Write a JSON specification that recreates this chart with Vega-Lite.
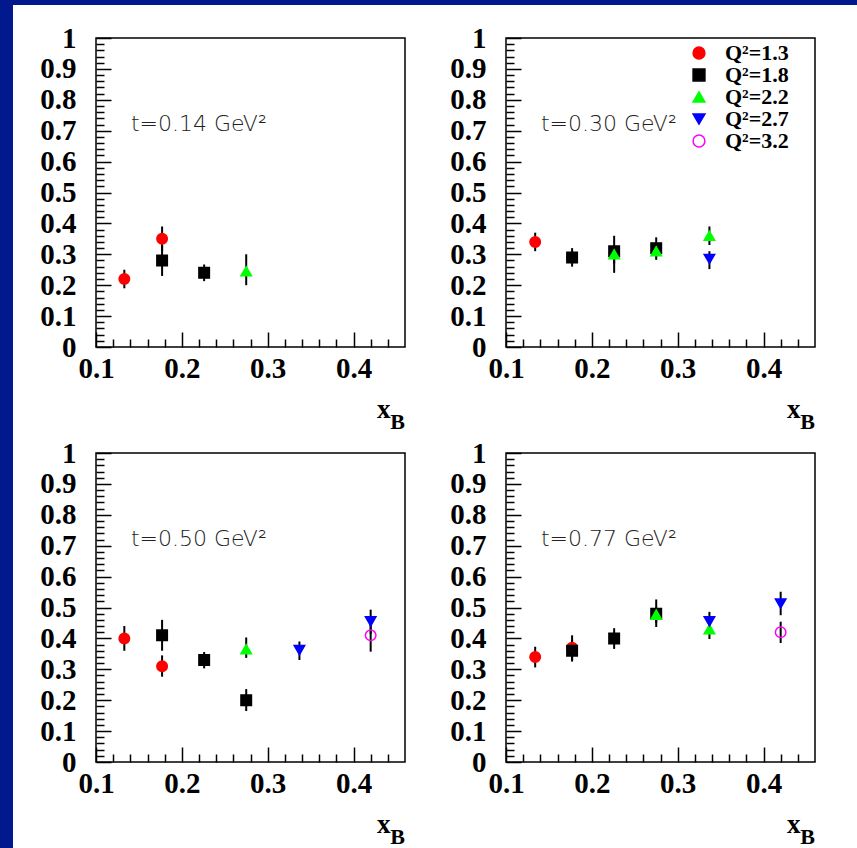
{
  "$schema": "https://vega.github.io/schema/vega-lite/v6.json",
  "padding": 0,
  "autosize": {"type": "pad"},
  "background": "white",
  "config": {
    "legend": {"labelFont": "Liberation Serif", "labelFontWeight": "bold", "labelFontSize": 22, "labelColor": "black", "symbolSize": 140, "symbolStrokeWidth": 1.5, "rowPadding": 0, "labelOffset": 15, "padding": 0},
    "axis": {"ticks": true, "tickColor": "#000000", "tickWidth": 1.5, "tickOpacity": 1, "grid": false, "domain": false, "labelFont": "Liberation Serif", "labelFontWeight": "bold", "labelFontSize": 29, "labelColor": "black", "labelOverlap": false, "labelFlush": false, "titleFont": "Liberation Serif", "titleFontWeight": "bold", "titleColor": "black", "titleAlign": "right", "titleBaseline": "alphabetic"}
  },
  "datasets": {
    "pts": [
      {"t": "0.14", "q": "Q²=1.3", "x": 0.133, "y": 0.22, "lo": 0.19, "hi": 0.25},
      {"t": "0.14", "q": "Q²=1.3", "x": 0.177, "y": 0.35, "lo": 0.31, "hi": 0.39},
      {"t": "0.14", "q": "Q²=1.8", "x": 0.177, "y": 0.28, "lo": 0.23, "hi": 0.33},
      {"t": "0.14", "q": "Q²=1.8", "x": 0.226, "y": 0.24, "lo": 0.213, "hi": 0.267},
      {"t": "0.14", "q": "Q²=2.2", "x": 0.275, "y": 0.245, "lo": 0.2, "hi": 0.3},
      {"t": "0.30", "q": "Q²=1.3", "x": 0.134, "y": 0.34, "lo": 0.31, "hi": 0.37},
      {"t": "0.30", "q": "Q²=1.3", "x": 0.177, "y": 0.29, "lo": 0.27, "hi": 0.31},
      {"t": "0.30", "q": "Q²=1.8", "x": 0.177, "y": 0.29, "lo": 0.26, "hi": 0.32},
      {"t": "0.30", "q": "Q²=1.8", "x": 0.226, "y": 0.31, "lo": 0.27, "hi": 0.36},
      {"t": "0.30", "q": "Q²=1.8", "x": 0.275, "y": 0.32, "lo": 0.29, "hi": 0.355},
      {"t": "0.30", "q": "Q²=2.2", "x": 0.226, "y": 0.3, "lo": 0.24, "hi": 0.33},
      {"t": "0.30", "q": "Q²=2.2", "x": 0.275, "y": 0.31, "lo": 0.282, "hi": 0.33},
      {"t": "0.30", "q": "Q²=2.2", "x": 0.337, "y": 0.36, "lo": 0.33, "hi": 0.39},
      {"t": "0.30", "q": "Q²=2.7", "x": 0.337, "y": 0.285, "lo": 0.252, "hi": 0.31},
      {"t": "0.50", "q": "Q²=1.3", "x": 0.133, "y": 0.4, "lo": 0.36, "hi": 0.44},
      {"t": "0.50", "q": "Q²=1.3", "x": 0.177, "y": 0.31, "lo": 0.276, "hi": 0.345},
      {"t": "0.50", "q": "Q²=1.8", "x": 0.177, "y": 0.41, "lo": 0.36, "hi": 0.46},
      {"t": "0.50", "q": "Q²=1.8", "x": 0.226, "y": 0.33, "lo": 0.303, "hi": 0.356},
      {"t": "0.50", "q": "Q²=1.8", "x": 0.275, "y": 0.2, "lo": 0.165, "hi": 0.236},
      {"t": "0.50", "q": "Q²=2.2", "x": 0.275, "y": 0.365, "lo": 0.337, "hi": 0.403},
      {"t": "0.50", "q": "Q²=2.7", "x": 0.337, "y": 0.362, "lo": 0.33, "hi": 0.39},
      {"t": "0.50", "q": "Q²=2.7", "x": 0.42, "y": 0.455, "lo": 0.415, "hi": 0.493},
      {"t": "0.50", "q": "Q²=3.2", "x": 0.42, "y": 0.41, "lo": 0.357, "hi": 0.45},
      {"t": "0.77", "q": "Q²=1.3", "x": 0.134, "y": 0.34, "lo": 0.306, "hi": 0.373},
      {"t": "0.77", "q": "Q²=1.3", "x": 0.177, "y": 0.37, "lo": 0.33, "hi": 0.41},
      {"t": "0.77", "q": "Q²=1.8", "x": 0.177, "y": 0.36, "lo": 0.325, "hi": 0.395},
      {"t": "0.77", "q": "Q²=1.8", "x": 0.226, "y": 0.4, "lo": 0.366, "hi": 0.433},
      {"t": "0.77", "q": "Q²=1.8", "x": 0.275, "y": 0.48, "lo": 0.437, "hi": 0.526},
      {"t": "0.77", "q": "Q²=2.2", "x": 0.275, "y": 0.477, "lo": 0.45, "hi": 0.5},
      {"t": "0.77", "q": "Q²=2.2", "x": 0.337, "y": 0.43, "lo": 0.398, "hi": 0.455},
      {"t": "0.77", "q": "Q²=2.7", "x": 0.337, "y": 0.455, "lo": 0.42, "hi": 0.486},
      {"t": "0.77", "q": "Q²=2.7", "x": 0.42, "y": 0.513, "lo": 0.475, "hi": 0.551},
      {"t": "0.77", "q": "Q²=3.2", "x": 0.42, "y": 0.42, "lo": 0.385, "hi": 0.454}
    ]
  },
  "spacing": 0,
  "hconcat": [
    {"width": 13, "height": 848, "data": {"values": []}, "mark": "point", "view": {"fill": "#02198e", "stroke": null}},
    {
      "spacing": 18,
      "vconcat": [
        {"width": 844, "height": 5, "data": {"values": []}, "mark": "point", "view": {"fill": "#02198e", "stroke": null}},
        {
          "spacing": 25,
          "hconcat": [
            {"width": 1, "height": 1, "data": {"values": []}, "mark": "point", "view": {"stroke": null}},
            {
              "columns": 2,
              "spacing": {"row": 5, "column": 43},
              "concat": [
                {
                  "width": 309, "height": 309,
                  "view": {"stroke": "black", "strokeWidth": 1.5},
                  "resolve": {"axis": {"x": "independent", "y": "independent"}},
                  "layer": [
                    {"data": {"name": "pts"}, "transform": [{"filter": {"field": "t", "equal": "0.14"}}],
                     "mark": {"type": "rule", "color": "black", "strokeWidth": 2},
                     "encoding": {
                       "x": {"field": "x", "type": "quantitative", "scale": {"domain": [0.1, 0.46], "nice": false, "zero": false},
                             "axis": {"orient": "bottom", "offset": -8, "tickSize": 8, "values": [0.12,0.14,0.16,0.18,0.22,0.24,0.26,0.28,0.32,0.34,0.36,0.38,0.42,0.44], "labels": false, "title": "B", "titleFontSize": 22, "titleX": 308.5, "titleY": 89}},
                       "y": {"field": "lo", "type": "quantitative", "scale": {"domain": [0, 1], "nice": false},
                             "axis": {"orient": "left", "offset": -8, "tickSize": 8, "values": [0.02,0.04,0.06,0.08,0.12,0.14,0.16,0.18,0.22,0.24,0.26,0.28,0.32,0.34,0.36,0.38,0.42,0.44,0.46,0.48,0.52,0.54,0.56,0.58,0.62,0.64,0.66,0.68,0.72,0.74,0.76,0.78,0.82,0.84,0.86,0.88,0.92,0.94,0.96,0.98], "labels": false, "title": null}},
                       "y2": {"field": "hi"}
                     }},
                    {"data": {"name": "pts"}, "transform": [{"filter": {"field": "t", "equal": "0.14"}}],
                     "mark": {"type": "point", "size": 110, "opacity": 1, "strokeWidth": 1.5},
                     "encoding": {
                       "x": {"field": "x", "type": "quantitative", "scale": {"domain": [0.1, 0.46], "nice": false, "zero": false},
                             "axis": {"orient": "bottom", "offset": -15, "tickSize": 15, "values": [0.1, 0.2, 0.3, 0.4], "format": ".1f", "labelPadding": 7, "title": "x", "titleFontSize": 27, "titleX": 294, "titleY": 85}},
                       "y": {"field": "y", "type": "quantitative", "scale": {"domain": [0, 1], "nice": false},
                             "axis": {"orient": "left", "offset": -15, "tickSize": 15, "values": [0,0.1,0.2,0.3,0.4,0.5,0.6,0.7,0.8,0.9,1], "format": "~g", "labelPadding": 20, "title": null}},
                       "shape": {"field": "q", "type": "nominal", "scale": {"domain": ["Q²=1.3","Q²=1.8","Q²=2.2","Q²=2.7","Q²=3.2"], "range": ["circle","square","triangle-up","triangle-down","circle"]}, "legend": {"title": null, "orient": "none", "legendX": 688, "legendY": 42}},
                       "fill": {"field": "q", "type": "nominal", "scale": {"domain": ["Q²=1.3","Q²=1.8","Q²=2.2","Q²=2.7","Q²=3.2"], "range": ["#ff0000","#000000","#00ff00","#0000ff","transparent"]}, "legend": {"title": null, "orient": "none", "legendX": 688, "legendY": 42}},
                       "stroke": {"field": "q", "type": "nominal", "scale": {"domain": ["Q²=1.3","Q²=1.8","Q²=2.2","Q²=2.7","Q²=3.2"], "range": ["#ff0000","#000000","#00ff00","#0000ff","#ff00ff"]}, "legend": {"title": null, "orient": "none", "legendX": 688, "legendY": 42}}
                     }},
                    {"data": {"values": [{"label": "t=0.14 GeV²"}]},
                     "mark": {"type": "text", "font": "DejaVu Sans", "fontSize": 22, "fontWeight": 200, "align": "left", "baseline": "alphabetic", "color": "#222222"},
                     "encoding": {"x": {"datum": 0.1407, "type": "quantitative", "axis": null}, "y": {"datum": 0.7, "type": "quantitative", "axis": null}, "text": {"field": "label"}}}
                  ]
                },
                {
                  "width": 309, "height": 309,
                  "view": {"stroke": "black", "strokeWidth": 1.5},
                  "resolve": {"axis": {"x": "independent", "y": "independent"}},
                  "layer": [
                    {"data": {"name": "pts"}, "transform": [{"filter": {"field": "t", "equal": "0.30"}}],
                     "mark": {"type": "rule", "color": "black", "strokeWidth": 2},
                     "encoding": {
                       "x": {"field": "x", "type": "quantitative", "scale": {"domain": [0.1, 0.46], "nice": false, "zero": false},
                             "axis": {"orient": "bottom", "offset": -8, "tickSize": 8, "values": [0.12,0.14,0.16,0.18,0.22,0.24,0.26,0.28,0.32,0.34,0.36,0.38,0.42,0.44], "labels": false, "title": "B", "titleFontSize": 22, "titleX": 308.5, "titleY": 89}},
                       "y": {"field": "lo", "type": "quantitative", "scale": {"domain": [0, 1], "nice": false},
                             "axis": {"orient": "left", "offset": -8, "tickSize": 8, "values": [0.02,0.04,0.06,0.08,0.12,0.14,0.16,0.18,0.22,0.24,0.26,0.28,0.32,0.34,0.36,0.38,0.42,0.44,0.46,0.48,0.52,0.54,0.56,0.58,0.62,0.64,0.66,0.68,0.72,0.74,0.76,0.78,0.82,0.84,0.86,0.88,0.92,0.94,0.96,0.98], "labels": false, "title": null}},
                       "y2": {"field": "hi"}
                     }},
                    {"data": {"name": "pts"}, "transform": [{"filter": {"field": "t", "equal": "0.30"}}],
                     "mark": {"type": "point", "size": 110, "opacity": 1, "strokeWidth": 1.5},
                     "encoding": {
                       "x": {"field": "x", "type": "quantitative", "scale": {"domain": [0.1, 0.46], "nice": false, "zero": false},
                             "axis": {"orient": "bottom", "offset": -15, "tickSize": 15, "values": [0.1, 0.2, 0.3, 0.4], "format": ".1f", "labelPadding": 7, "title": "x", "titleFontSize": 27, "titleX": 294, "titleY": 85}},
                       "y": {"field": "y", "type": "quantitative", "scale": {"domain": [0, 1], "nice": false},
                             "axis": {"orient": "left", "offset": -15, "tickSize": 15, "values": [0,0.1,0.2,0.3,0.4,0.5,0.6,0.7,0.8,0.9,1], "format": "~g", "labelPadding": 20, "title": null}},
                       "shape": {"field": "q", "type": "nominal", "scale": {"domain": ["Q²=1.3","Q²=1.8","Q²=2.2","Q²=2.7","Q²=3.2"], "range": ["circle","square","triangle-up","triangle-down","circle"]}, "legend": {"title": null, "orient": "none", "legendX": 688, "legendY": 42}},
                       "fill": {"field": "q", "type": "nominal", "scale": {"domain": ["Q²=1.3","Q²=1.8","Q²=2.2","Q²=2.7","Q²=3.2"], "range": ["#ff0000","#000000","#00ff00","#0000ff","transparent"]}, "legend": {"title": null, "orient": "none", "legendX": 688, "legendY": 42}},
                       "stroke": {"field": "q", "type": "nominal", "scale": {"domain": ["Q²=1.3","Q²=1.8","Q²=2.2","Q²=2.7","Q²=3.2"], "range": ["#ff0000","#000000","#00ff00","#0000ff","#ff00ff"]}, "legend": {"title": null, "orient": "none", "legendX": 688, "legendY": 42}}
                     }},
                    {"data": {"values": [{"label": "t=0.30 GeV²"}]},
                     "mark": {"type": "text", "font": "DejaVu Sans", "fontSize": 22, "fontWeight": 200, "align": "left", "baseline": "alphabetic", "color": "#222222"},
                     "encoding": {"x": {"datum": 0.1407, "type": "quantitative", "axis": null}, "y": {"datum": 0.7, "type": "quantitative", "axis": null}, "text": {"field": "label"}}}
                  ]
                },
                {
                  "width": 309, "height": 309,
                  "view": {"stroke": "black", "strokeWidth": 1.5},
                  "resolve": {"axis": {"x": "independent", "y": "independent"}},
                  "layer": [
                    {"data": {"name": "pts"}, "transform": [{"filter": {"field": "t", "equal": "0.50"}}],
                     "mark": {"type": "rule", "color": "black", "strokeWidth": 2},
                     "encoding": {
                       "x": {"field": "x", "type": "quantitative", "scale": {"domain": [0.1, 0.46], "nice": false, "zero": false},
                             "axis": {"orient": "bottom", "offset": -8, "tickSize": 8, "values": [0.12,0.14,0.16,0.18,0.22,0.24,0.26,0.28,0.32,0.34,0.36,0.38,0.42,0.44], "labels": false, "title": "B", "titleFontSize": 22, "titleX": 308.5, "titleY": 89}},
                       "y": {"field": "lo", "type": "quantitative", "scale": {"domain": [0, 1], "nice": false},
                             "axis": {"orient": "left", "offset": -8, "tickSize": 8, "values": [0.02,0.04,0.06,0.08,0.12,0.14,0.16,0.18,0.22,0.24,0.26,0.28,0.32,0.34,0.36,0.38,0.42,0.44,0.46,0.48,0.52,0.54,0.56,0.58,0.62,0.64,0.66,0.68,0.72,0.74,0.76,0.78,0.82,0.84,0.86,0.88,0.92,0.94,0.96,0.98], "labels": false, "title": null}},
                       "y2": {"field": "hi"}
                     }},
                    {"data": {"name": "pts"}, "transform": [{"filter": {"field": "t", "equal": "0.50"}}],
                     "mark": {"type": "point", "size": 110, "opacity": 1, "strokeWidth": 1.5},
                     "encoding": {
                       "x": {"field": "x", "type": "quantitative", "scale": {"domain": [0.1, 0.46], "nice": false, "zero": false},
                             "axis": {"orient": "bottom", "offset": -15, "tickSize": 15, "values": [0.1, 0.2, 0.3, 0.4], "format": ".1f", "labelPadding": 7, "title": "x", "titleFontSize": 27, "titleX": 294, "titleY": 85}},
                       "y": {"field": "y", "type": "quantitative", "scale": {"domain": [0, 1], "nice": false},
                             "axis": {"orient": "left", "offset": -15, "tickSize": 15, "values": [0,0.1,0.2,0.3,0.4,0.5,0.6,0.7,0.8,0.9,1], "format": "~g", "labelPadding": 20, "title": null}},
                       "shape": {"field": "q", "type": "nominal", "scale": {"domain": ["Q²=1.3","Q²=1.8","Q²=2.2","Q²=2.7","Q²=3.2"], "range": ["circle","square","triangle-up","triangle-down","circle"]}, "legend": {"title": null, "orient": "none", "legendX": 688, "legendY": 42}},
                       "fill": {"field": "q", "type": "nominal", "scale": {"domain": ["Q²=1.3","Q²=1.8","Q²=2.2","Q²=2.7","Q²=3.2"], "range": ["#ff0000","#000000","#00ff00","#0000ff","transparent"]}, "legend": {"title": null, "orient": "none", "legendX": 688, "legendY": 42}},
                       "stroke": {"field": "q", "type": "nominal", "scale": {"domain": ["Q²=1.3","Q²=1.8","Q²=2.2","Q²=2.7","Q²=3.2"], "range": ["#ff0000","#000000","#00ff00","#0000ff","#ff00ff"]}, "legend": {"title": null, "orient": "none", "legendX": 688, "legendY": 42}}
                     }},
                    {"data": {"values": [{"label": "t=0.50 GeV²"}]},
                     "mark": {"type": "text", "font": "DejaVu Sans", "fontSize": 22, "fontWeight": 200, "align": "left", "baseline": "alphabetic", "color": "#222222"},
                     "encoding": {"x": {"datum": 0.1407, "type": "quantitative", "axis": null}, "y": {"datum": 0.7, "type": "quantitative", "axis": null}, "text": {"field": "label"}}}
                  ]
                },
                {
                  "width": 309, "height": 309,
                  "view": {"stroke": "black", "strokeWidth": 1.5},
                  "resolve": {"axis": {"x": "independent", "y": "independent"}},
                  "layer": [
                    {"data": {"name": "pts"}, "transform": [{"filter": {"field": "t", "equal": "0.77"}}],
                     "mark": {"type": "rule", "color": "black", "strokeWidth": 2},
                     "encoding": {
                       "x": {"field": "x", "type": "quantitative", "scale": {"domain": [0.1, 0.46], "nice": false, "zero": false},
                             "axis": {"orient": "bottom", "offset": -8, "tickSize": 8, "values": [0.12,0.14,0.16,0.18,0.22,0.24,0.26,0.28,0.32,0.34,0.36,0.38,0.42,0.44], "labels": false, "title": "B", "titleFontSize": 22, "titleX": 308.5, "titleY": 89}},
                       "y": {"field": "lo", "type": "quantitative", "scale": {"domain": [0, 1], "nice": false},
                             "axis": {"orient": "left", "offset": -8, "tickSize": 8, "values": [0.02,0.04,0.06,0.08,0.12,0.14,0.16,0.18,0.22,0.24,0.26,0.28,0.32,0.34,0.36,0.38,0.42,0.44,0.46,0.48,0.52,0.54,0.56,0.58,0.62,0.64,0.66,0.68,0.72,0.74,0.76,0.78,0.82,0.84,0.86,0.88,0.92,0.94,0.96,0.98], "labels": false, "title": null}},
                       "y2": {"field": "hi"}
                     }},
                    {"data": {"name": "pts"}, "transform": [{"filter": {"field": "t", "equal": "0.77"}}],
                     "mark": {"type": "point", "size": 110, "opacity": 1, "strokeWidth": 1.5},
                     "encoding": {
                       "x": {"field": "x", "type": "quantitative", "scale": {"domain": [0.1, 0.46], "nice": false, "zero": false},
                             "axis": {"orient": "bottom", "offset": -15, "tickSize": 15, "values": [0.1, 0.2, 0.3, 0.4], "format": ".1f", "labelPadding": 7, "title": "x", "titleFontSize": 27, "titleX": 294, "titleY": 85}},
                       "y": {"field": "y", "type": "quantitative", "scale": {"domain": [0, 1], "nice": false},
                             "axis": {"orient": "left", "offset": -15, "tickSize": 15, "values": [0,0.1,0.2,0.3,0.4,0.5,0.6,0.7,0.8,0.9,1], "format": "~g", "labelPadding": 20, "title": null}},
                       "shape": {"field": "q", "type": "nominal", "scale": {"domain": ["Q²=1.3","Q²=1.8","Q²=2.2","Q²=2.7","Q²=3.2"], "range": ["circle","square","triangle-up","triangle-down","circle"]}, "legend": {"title": null, "orient": "none", "legendX": 688, "legendY": 42}},
                       "fill": {"field": "q", "type": "nominal", "scale": {"domain": ["Q²=1.3","Q²=1.8","Q²=2.2","Q²=2.7","Q²=3.2"], "range": ["#ff0000","#000000","#00ff00","#0000ff","transparent"]}, "legend": {"title": null, "orient": "none", "legendX": 688, "legendY": 42}},
                       "stroke": {"field": "q", "type": "nominal", "scale": {"domain": ["Q²=1.3","Q²=1.8","Q²=2.2","Q²=2.7","Q²=3.2"], "range": ["#ff0000","#000000","#00ff00","#0000ff","#ff00ff"]}, "legend": {"title": null, "orient": "none", "legendX": 688, "legendY": 42}}
                     }},
                    {"data": {"values": [{"label": "t=0.77 GeV²"}]},
                     "mark": {"type": "text", "font": "DejaVu Sans", "fontSize": 22, "fontWeight": 200, "align": "left", "baseline": "alphabetic", "color": "#222222"},
                     "encoding": {"x": {"datum": 0.1407, "type": "quantitative", "axis": null}, "y": {"datum": 0.7, "type": "quantitative", "axis": null}, "text": {"field": "label"}}}
                  ]
                }
              ]
            }
          ]
        }
      ]
    }
  ]
}
